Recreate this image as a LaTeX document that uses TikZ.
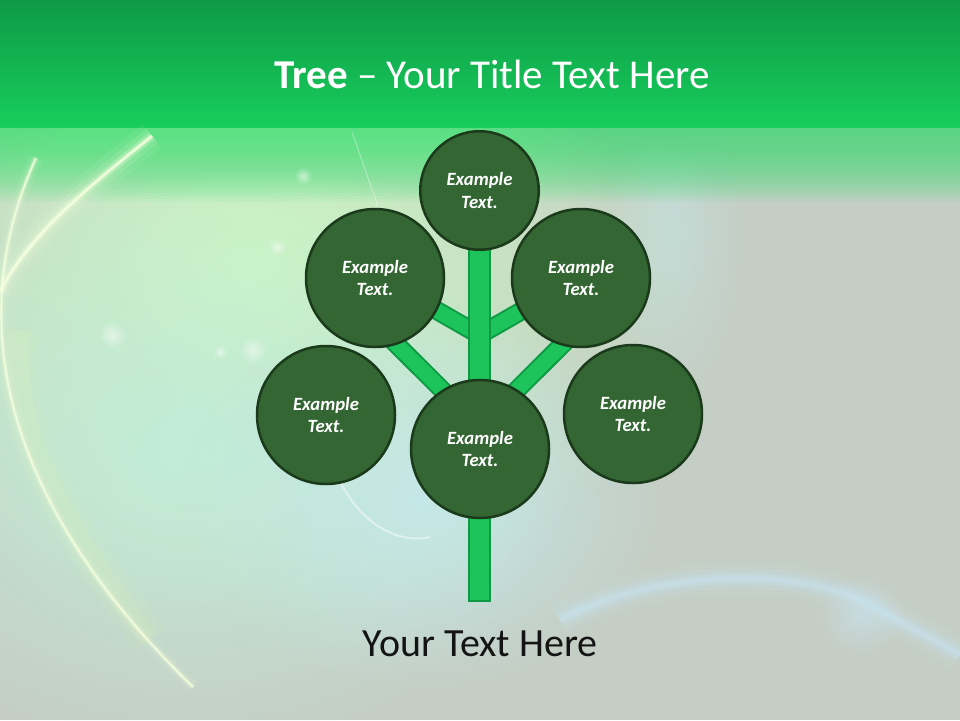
\documentclass[tikz,border=0pt]{standalone}
\usepackage{fontspec}
\setmainfont{Carlito}
\usetikzlibrary{fadings}
\tikzfading[name=glowfade, inner color=transparent!0, outer color=transparent!100]
\definecolor{bgray}{HTML}{C5CEC5}
\definecolor{topdark}{HTML}{0E9A47}
\definecolor{toplight}{HTML}{18CE5C}
\definecolor{bandglow}{HTML}{4FE07E}
\definecolor{paleglow}{HTML}{CDF8C2}
\definecolor{mintglow}{HTML}{C2EDD8}
\definecolor{cyanglow}{HTML}{C4E8E8}
\definecolor{blueglow}{HTML}{C8E4F0}
\definecolor{lightline}{HTML}{F4FFDE}
\definecolor{halo}{HTML}{E6FFAE}
\definecolor{leaf}{HTML}{336633}
\definecolor{leafedge}{HTML}{1B3A1B}
\definecolor{trunkfill}{HTML}{1DC35B}
\definecolor{trunkedge}{HTML}{0E9A44}
\tikzset{
  leafnode/.style={circle, fill=leaf, draw=leafedge, line width=2.5pt,
    minimum size=138pt, inner sep=0pt, text=white, align=center,
    font=\fontsize{18.7}{22.5}\selectfont\bfseries\itshape},
  topleaf/.style={leafnode, minimum size=118.5pt},
  trunkbox/.style={rectangle, draw=trunkedge, fill=trunkfill, line width=2pt,
    minimum width=21pt, minimum height=361pt, inner sep=0pt},
  branchedge/.style={draw=trunkedge, line width=19pt},
  branchfill/.style={draw=trunkfill, line width=15pt},
  glowspot/.style={fill=white, path fading=glowfade}
}
\begin{document}
\begin{tikzpicture}[x=1pt,y=-1pt]
\useasboundingbox (0,0) rectangle (960,720);
% background
\fill[bgray] (0,0) rectangle (960,720);
\fill[paleglow, path fading=glowfade] (250,270) ellipse [x radius=450, y radius=360];
\fill[mintglow, path fading=glowfade] (190,450) ellipse [x radius=380, y radius=300];
\fill[cyanglow, path fading=glowfade] (420,500) ellipse [x radius=240, y radius=190];
\fill[cyanglow, opacity=0.5, path fading=glowfade] (672,230) ellipse [x radius=70, y radius=170];
\foreach \h in {3,6,...,75}{
  \fill[bandglow, opacity=0.075] (0,127) rectangle (960,127+\h);
}
\shade[top color=topdark, bottom color=toplight] (0,0) rectangle (960,127);
% light arcs
\foreach \w/\o in {30/0.07, 18/0.12, 9/0.25, 4/0.55, 2/0.8}{
  \draw[lightline, line width=\w pt, opacity=\o] (152,136) .. controls (95,182) and (30,232) .. (0,292);
}
\foreach \w/\o in {36/0.07, 20/0.1}{
  \draw[halo, line width=\w pt, opacity=\o] (20,330) .. controls (10,430) and (60,520) .. (150,640);
}
\foreach \w/\o in {14/0.08, 7/0.16, 3.5/0.35, 1.6/0.8}{
  \draw[lightline, line width=\w pt, opacity=\o] (36,158) .. controls (-22,285) and (-30,470) .. (193,687);
}
\foreach \w/\o in {32/0.1, 20/0.18, 11/0.3, 5/0.4}{
  \draw[blueglow, line width=\w pt, opacity=\o] (560,620) .. controls (650,570) and (800,565) .. (870,605) .. controls (910,628) and (940,642) .. (960,655);
}
\fill[blueglow, opacity=0.6, path fading=glowfade] (862,615) ellipse [x radius=45, y radius=40];
\draw[white, line width=1pt, opacity=0.35] (352,132) .. controls (362,160) and (370,185) .. (378,205);
\draw[white, line width=2pt, opacity=0.45] (335,470) .. controls (355,520) and (395,545) .. (430,537);
\foreach \p/\r in {{(112,335)/14}, {(253,350)/14}, {(277,247)/9}, {(303,176)/9}, {(220,352)/7}}{
  \fill[glowspot, opacity=0.5] \p circle (\r);
}
% tree
\coordinate (jsmall) at (479.5,335);
\coordinate (jlarge) at (479.5,427);
\coordinate (sl) at (415,298);
\coordinate (sr) at (544,298);
\coordinate (ll) at (385,333);
\coordinate (lr) at (574,333);
\foreach \a/\b in {jsmall/sl, jsmall/sr, jlarge/ll, jlarge/lr}{
  \draw[branchedge] (\a) -- (\b);
  \draw[branchfill] (\a) -- (\b);
}
\node[trunkbox] (trunk) at (479.5,420.5) {};
\node[topleaf] (top) at (479.5,190.5) {Example\\Text.};
\node[leafnode] (ul) at (375,278) {Example\\Text.};
\node[leafnode] (ur) at (581,278) {Example\\Text.};
\node[leafnode] (ll2) at (326,415) {Example\\Text.};
\node[leafnode] (lr2) at (633,414) {Example\\Text.};
\node[leafnode] (mid) at (480,449) {Example\\Text.};
% texts
\node[anchor=base, text=white, font=\fontsize{41}{48}\selectfont] (title) at (492,88) {\textbf{Tree} – Your Title Text Here};
\node[anchor=base, text=black!92, font=\fontsize{40}{48}\selectfont] (caption) at (480,656) {Your Text Here};
\end{tikzpicture}
\end{document}
